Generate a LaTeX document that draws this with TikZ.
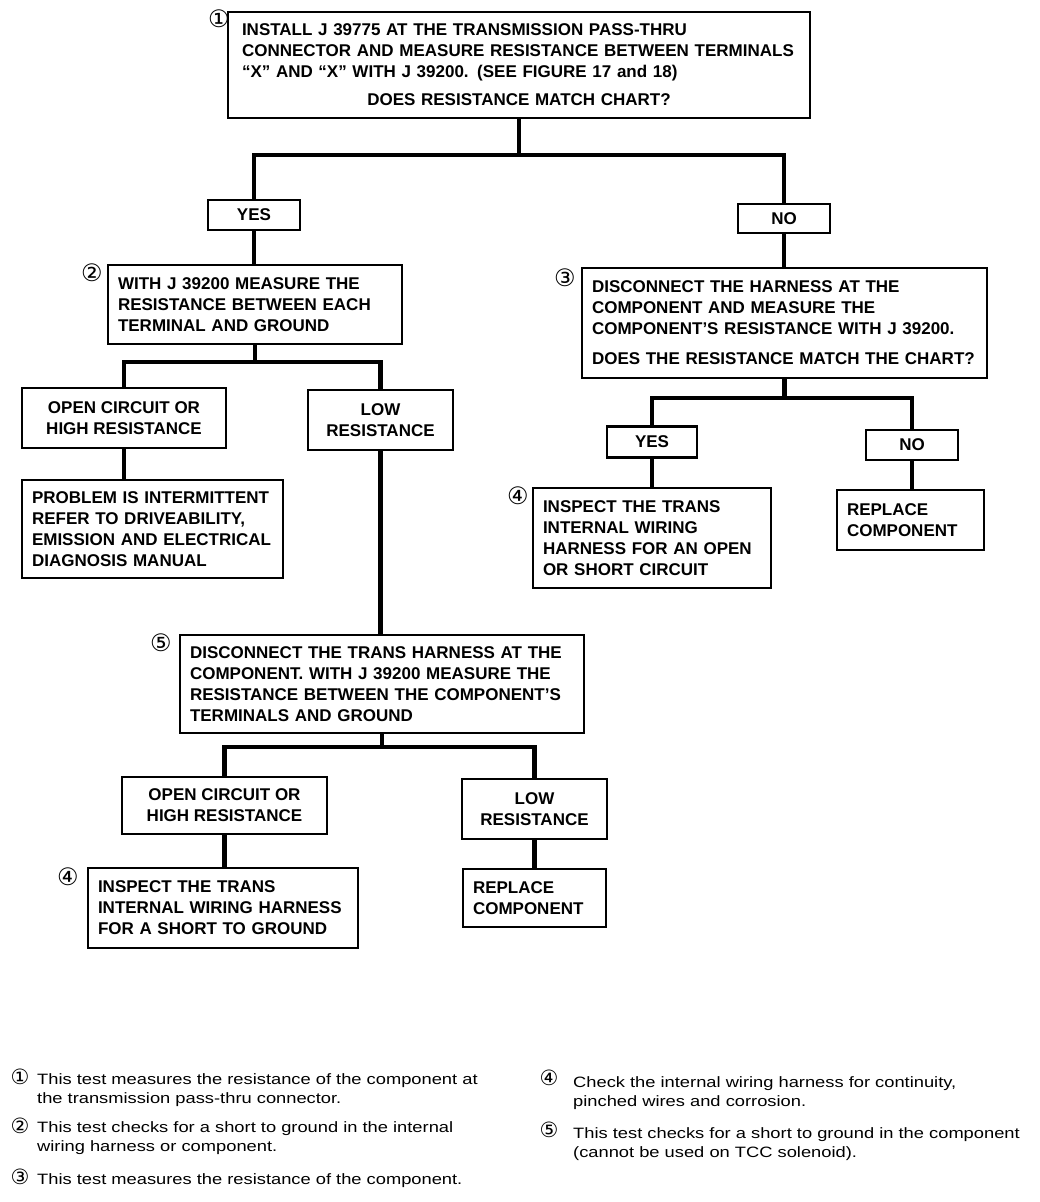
\documentclass[tikz,border=0pt]{standalone}
\usepackage{fontspec}
\setmainfont{Liberation Sans}
\newfontfamily\tagfamily{DejaVu Sans}
\newfontfamily\notefamily[FakeStretch=1.22]{Liberation Sans}

\tikzset{
  box/.style  = {draw, line width=2.6pt, align=left, inner xsep=10pt, inner ysep=2pt,
                 font=\bfseries\fontsize{17}{21}\selectfont},
  cbox/.style = {box, align=center},
  link/.style = {line width=4.2pt},
  tag/.style  = {inner sep=0pt, font=\tagfamily\fontsize{24}{24}\selectfont},
  ntag/.style = {tag, font=\tagfamily\fontsize{21}{21}\selectfont},
  note/.style = {anchor=base west, inner sep=0pt, align=left,
                 font=\notefamily\fontsize{15}{18.7}\selectfont},
}

\begin{document}
\begin{tikzpicture}[x = 1pt, y = -1pt]
\useasboundingbox (0, 0) rectangle (1040, 1202);

% first test
\node[box, inner xsep=14pt, text width=554pt, minimum height=106pt] (test1) at (519, 65)
  {INSTALL J 39775 AT THE TRANSMISSION PASS-THRU\\
   CONNECTOR AND MEASURE RESISTANCE BETWEEN TERMINALS\\
   ``X'' AND ``X'' WITH J 39200. (SEE FIGURE 17 and 18)\\[7pt]
   \makebox[554pt]{DOES RESISTANCE MATCH CHART?}};
\node[cbox, minimum width=92pt, minimum height=30pt] (yes1) at (254, 215) {YES};
\node[cbox, minimum width=92pt, minimum height=29pt] (no1) at (784, 218.5) {NO};

% left branch
\node[box, text width=274pt, minimum height=79pt] (test2) at (255, 304.5)
  {WITH J 39200 MEASURE THE\\ RESISTANCE BETWEEN EACH\\ TERMINAL AND GROUND};
\node[cbox, minimum width=204pt, minimum height=60pt] (open1) at (124, 418)
  {OPEN CIRCUIT OR\\ HIGH RESISTANCE};
\node[cbox, minimum width=145pt, minimum height=60pt] (low1) at (380.5, 420)
  {LOW\\ RESISTANCE};
\node[box, text width=241pt, minimum height=98pt] (intermit) at (152.5, 529)
  {PROBLEM IS INTERMITTENT\\ REFER TO DRIVEABILITY,\\
   EMISSION AND ELECTRICAL\\ DIAGNOSIS MANUAL};

\node[box, text width=384pt, minimum height=98pt] (test5) at (382, 684)
  {DISCONNECT THE TRANS HARNESS AT THE\\ COMPONENT. WITH J 39200 MEASURE THE\\
   RESISTANCE BETWEEN THE COMPONENT'S\\ TERMINALS AND GROUND};
\node[cbox, minimum width=205pt, minimum height=57pt] (open2) at (224.5, 805.5)
  {OPEN CIRCUIT OR\\ HIGH RESISTANCE};
\node[cbox, minimum width=145pt, minimum height=60pt] (low2) at (534.5, 809)
  {LOW\\ RESISTANCE};
\node[box, text width=250pt, minimum height=80pt] (inspect2) at (223, 908)
  {INSPECT THE TRANS\\ INTERNAL WIRING HARNESS\\ FOR A SHORT TO GROUND};
\node[box, text width=123pt, minimum height=58pt] (replace2) at (534.5, 898)
  {REPLACE\\ COMPONENT};

% right branch
\node[box, text width=385pt, minimum height=110pt] (test3) at (784.5, 323)
  {DISCONNECT THE HARNESS AT THE\\ COMPONENT AND MEASURE THE\\
   COMPONENT'S RESISTANCE WITH J 39200.\\[9pt]
   DOES THE RESISTANCE MATCH THE CHART?};
\node[cbox, minimum width=90pt, minimum height=31pt] (yes2) at (652, 442) {YES};
\node[cbox, minimum width=92pt, minimum height=30pt] (no2) at (912, 445) {NO};
\node[box, text width=218pt, minimum height=100pt] (inspect1) at (652, 538)
  {INSPECT THE TRANS\\ INTERNAL WIRING\\ HARNESS FOR AN OPEN\\ OR SHORT CIRCUIT};
\node[box, text width=127pt, minimum height=60pt] (replace1) at (910.5, 520)
  {REPLACE\\ COMPONENT};

% step numbers
\node[tag] (tag1) at (219, 19) {①};
\node[tag] (tag2) at (92, 273) {②};
\node[tag] (tag3) at (565, 278) {③};
\node[tag] (tag4a) at (518, 496) {④};
\node[tag] (tag5) at (161, 643) {⑤};
\node[tag] (tag4b) at (68, 877) {④};

% connectors
\coordinate (split1) at (519, 155);
\coordinate (split2) at (255, 362);
\coordinate (split3) at (784.5, 398);
\coordinate (split4) at (382, 747);
\draw[link] (test1.south) -- (split1);
\draw[link] (yes1.north) |- (split1) -| (no1.north);
\draw[link] (test2.south) -- (split2);
\draw[link] (open1.north) |- (split2) -| (low1.north);
\draw[link] (test3.south) -- (split3);
\draw[link] (yes2.north) |- (split3) -| (no2.north);
\draw[link] (test5.south) -- (split4);
\draw[link] (open2.north) |- (split4) -| (low2.north);
\foreach \a/\b in {yes1/test2, no1/test3, open1/intermit, low1/test5,
                   yes2/inspect1, no2/replace1, open2/inspect2, low2/replace2}
  \draw[link] (\a.south) -- (\a.south |- \b.north);

% notes
\node[ntag] (ntag1) at (20, 1077) {①};
\node[ntag] (ntag2) at (20, 1126) {②};
\node[ntag] (ntag3) at (20, 1177) {③};
\node[ntag] (ntag4) at (549, 1078) {④};
\node[ntag] (ntag5) at (549, 1130) {⑤};
\node[note] (note1) at (37, 1103)
  {This test measures the resistance of the component at\\ the transmission pass-thru connector.};
\node[note] (note2) at (37, 1151)
  {This test checks for a short to ground in the internal\\ wiring harness or component.};
\node[note] (note3) at (37, 1184)
  {This test measures the resistance of the component.};
\node[note] (note4) at (573, 1106)
  {Check the internal wiring harness for continuity,\\ pinched wires and corrosion.};
\node[note] (note5) at (573, 1157)
  {This test checks for a short to ground in the component\\ (cannot be used on TCC solenoid).};

\end{tikzpicture}
\end{document}
